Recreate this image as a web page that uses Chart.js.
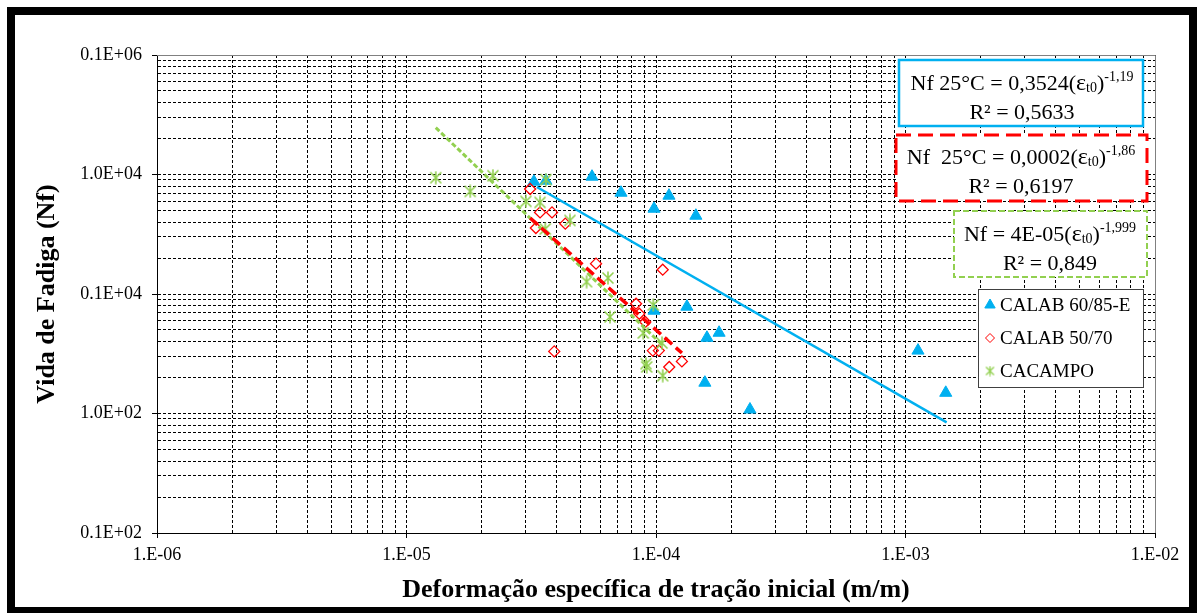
<!DOCTYPE html>
<html>
<head>
<meta charset="utf-8">
<script src="https://cdn.jsdelivr.net/npm/chart.js@4.4.1/dist/chart.umd.min.js"></script>
<style>
  html, body { margin: 0; padding: 0; background: #fff; }
  #wrap { width: 1200px; height: 613px; position: relative; }
</style>
</head>
<body>
<div id="wrap"><canvas id="fatigue" width="1200" height="613"></canvas></div>
<script>
// Initial tensile strain (m/m) against fatigue life (cycles), one pair of arrays per mixture
const calab6085Strain = [3.24e-5, 3.62e-5, 5.54e-5, 7.24e-5, 1.127e-4, 9.82e-5, 1.445e-4, 1.33e-4, 9.82e-5, 1.60e-4, 1.79e-4, 1.57e-4, 2.38e-4, 1.122e-3, 1.45e-3];
const calab6085Life   = [8710, 8870, 9590, 7040, 6650, 5170, 4520, 783, 725, 430, 474, 181, 108, 336, 149];

const calab5070Strain = [3.13e-5, 3.43e-5, 3.83e-5, 3.30e-5, 4.33e-5, 5.75e-5, 1.064e-4, 8.32e-5, 8.57e-5, 9.06e-5, 3.91e-5, 9.71e-5, 1.026e-4, 1.13e-4, 1.27e-4];
const calab5070Life   = [7560, 4820, 4820, 3570, 3880, 1795, 1597, 830, 684, 583, 331, 336, 336, 245, 273];

const cacampoStrain = [1.31e-5, 2.22e-5, 1.80e-5, 3.62e-5, 3.01e-5, 3.43e-5, 4.52e-5, 3.60e-5, 6.42e-5, 5.27e-5, 6.54e-5, 9.75e-5, 8.89e-5, 1.057e-4, 9.18e-5, 9.12e-5, 1.064e-4];
const cacampoLife   = [9400, 9770, 7220, 9050, 5960, 5840, 4130, 3500, 1360, 1267, 643, 809, 472, 389, 245, 261, 207];

// Power-law trend lines: start and end of each fitted curve
const trend6085Strain = [3.33e-5, 1.462e-3];
const trend6085Life   = [7860, 84.2];
const trend5070Strain = [3.13e-5, 1.27e-4];
const trend5070Life   = [4325, 321];
const trendCacampoStrain = [1.31e-5, 1.057e-4];
const trendCacampoLife   = [24650, 377];

// Decade tick labels
const xTickValues = [1e-6, 1e-5, 1e-4, 1e-3, 1e-2];
const xTickLabels = ['1.E-06', '1.E-05', '1.E-04', '1.E-03', '1.E-02'];
const yTickValues = [10, 100, 1000, 10000, 100000];
const yTickLabels = ['0.1E+02', '1.0E+02', '0.1E+04', '1.0E+04', '0.1E+06'];

const seriesNames = ['CALAB 60/85-E', 'CALAB 50/70', 'CACAMPO'];

const BLUE = '#00B0F0', RED = '#FF0000', GREEN = '#92D050';
const SERIF = '"Liberation Serif", "Times New Roman", serif';

function pairs(xs, ys) { return xs.map((x, i) => ({ x, y: ys[i] })); }

function starMarker(size, color, lw) {
  const c = document.createElement('canvas');
  c.width = size; c.height = size;
  const g = c.getContext('2d');
  g.strokeStyle = color; g.lineWidth = lw;
  const m = 1.5, e = size - 1.5, h = size / 2;
  g.beginPath();
  g.moveTo(m, m); g.lineTo(e, e);
  g.moveTo(e, m); g.lineTo(m, e);
  g.moveTo(h, 0.5); g.lineTo(h, size - 0.5);
  g.stroke();
  return c;
}
const starBig = starMarker(14, GREEN, 1.6);
const starSmall = starMarker(11, GREEN, 1.3);

function isDecade(v) {
  const l = Math.log10(v);
  return Math.abs(l - Math.round(l)) < 1e-6;
}
function labelFor(values, labels, v) {
  const i = values.findIndex(t => Math.abs(Math.log10(t) - Math.log10(v)) < 1e-6);
  return i >= 0 ? labels[i] : '';
}
function logGridTicks(min, max) {
  const out = [];
  const e0 = Math.round(Math.log10(min)), e1 = Math.round(Math.log10(max));
  for (let e = e0; e < e1; e++) {
    for (let k = 1; k < 10; k++) out.push({ value: k * Math.pow(10, e) });
  }
  out.push({ value: max });
  return out;
}

// Rich text: runs of text with their own font and vertical shift
function drawRich(ctx, parts, cx, baseline) {
  let w = 0;
  parts.forEach(p => { ctx.font = p.font; p.w = ctx.measureText(p.t).width; w += p.w; });
  let x = cx - w / 2;
  ctx.textAlign = 'left';
  ctx.textBaseline = 'alphabetic';
  parts.forEach(p => { ctx.font = p.font; ctx.fillText(p.t, x, baseline + (p.dy || 0)); x += p.w; });
}

const F = '22px ' + SERIF, FE = '24px ' + SERIF, FS = '14px ' + SERIF;
const equationBoxes = [
  { rect: [899, 60, 244, 66], color: BLUE, width: 2.5, dash: [], cx: 1022,
    lines: [
      { base: 90, parts: [{ t: 'Nf 25°C = 0,3524(', font: F }, { t: 'ε', font: FE }, { t: 't0', font: FS, dy: 2 }, { t: ')', font: F }, { t: '-1,19', font: FS, dy: -9 }] },
      { base: 119, parts: [{ t: 'R² = 0,5633', font: F }] }
    ] },
  { rect: [896, 135, 251, 66], color: RED, width: 3, dash: [15, 7], cx: 1021,
    lines: [
      { base: 164, parts: [{ t: 'Nf  25°C = 0,0002(', font: F }, { t: 'ε', font: FE }, { t: 't0', font: FS, dy: 2 }, { t: ')', font: F }, { t: '-1,86', font: FS, dy: -9 }] },
      { base: 193, parts: [{ t: 'R² = 0,6197', font: F }] }
    ] },
  { rect: [954, 211, 193, 66], color: GREEN, width: 2, dash: [6, 3], cx: 1050,
    lines: [
      { base: 241, parts: [{ t: 'Nf = 4E-05(', font: F }, { t: 'ε', font: FE }, { t: 't0', font: FS, dy: 2 }, { t: ')', font: F }, { t: '-1,999', font: FS, dy: -9 }] },
      { base: 270, parts: [{ t: 'R² = 0,849', font: F }] }
    ] }
];

const chartDecor = {
  id: 'chartDecor',
  beforeDatasetsDraw(chart) {
    const { ctx, chartArea: a } = chart;
    ctx.save();
    ctx.strokeStyle = '#808080';
    ctx.lineWidth = 1;
    ctx.beginPath();
    ctx.moveTo(a.left, a.top + 0.5); ctx.lineTo(a.right + 0.5, a.top + 0.5); ctx.lineTo(a.right + 0.5, a.bottom);
    ctx.stroke();
    ctx.restore();
  },
  afterDatasetsDraw(chart) {
    const ctx = chart.ctx;
    ctx.save();
    // equation boxes
    equationBoxes.forEach(b => {
      const [x, y, w, h] = b.rect;
      ctx.fillStyle = '#fff';
      ctx.fillRect(x, y, w, h);
      ctx.strokeStyle = b.color; ctx.lineWidth = b.width; ctx.setLineDash(b.dash);
      ctx.strokeRect(x, y, w, h);
      ctx.setLineDash([]);
      ctx.fillStyle = '#000';
      b.lines.forEach(l => drawRich(ctx, l.parts, b.cx, l.base));
    });
    // legend
    const lx = 978, ly = 289, lw = 165, lh = 98;
    ctx.fillStyle = '#fff';
    ctx.fillRect(lx, ly, lw, lh);
    ctx.strokeStyle = '#404040'; ctx.lineWidth = 1;
    ctx.strokeRect(lx + 0.5, ly + 0.5, lw, lh);
    const rows = [
      { ds: 0, y: 305, style: { pointStyle: 'triangle', radius: 6, borderWidth: 1, rotation: 0 } },
      { ds: 1, y: 338, style: { pointStyle: 'rectRot', radius: 4.5, borderWidth: 1.2, rotation: 0 } },
      { ds: 2, y: 371, style: { pointStyle: starSmall, radius: 5, borderWidth: 0, rotation: 0 } }
    ];
    rows.forEach(r => {
      const d = chart.data.datasets[r.ds];
      ctx.fillStyle = d.backgroundColor; ctx.strokeStyle = d.borderColor;
      Chart.helpers.drawPoint(ctx, r.style, 990, r.y);
      ctx.fillStyle = '#000';
      ctx.font = '19px ' + SERIF;
      ctx.textAlign = 'left'; ctx.textBaseline = 'middle';
      ctx.fillText(d.label, 1000, r.y + 1);
    });
    ctx.restore();
  },
  afterDraw(chart) {
    const ctx = chart.ctx;
    ctx.save();
    ctx.strokeStyle = '#000';
    ctx.lineWidth = 8;
    ctx.strokeRect(11, 11, 1182, 600);
    ctx.restore();
  }
};

const tickFont = { family: SERIF, size: 18 };
const titleFont = { family: SERIF, size: 26, weight: 'bold' };

new Chart(document.getElementById('fatigue'), {
  type: 'scatter',
  data: {
    datasets: [
      { label: seriesNames[0], data: pairs(calab6085Strain, calab6085Life), pointStyle: 'triangle', radius: 7,
        backgroundColor: BLUE, borderColor: BLUE, borderWidth: 1, order: 5 },
      { label: seriesNames[1], data: pairs(calab5070Strain, calab5070Life), pointStyle: 'rectRot', radius: 5.5,
        backgroundColor: 'rgba(0,0,0,0)', borderColor: RED, borderWidth: 1.3, order: 4 },
      { label: seriesNames[2], data: pairs(cacampoStrain, cacampoLife), pointStyle: starBig, radius: 7,
        backgroundColor: GREEN, borderColor: GREEN, borderWidth: 0, order: 3 },
      { type: 'line', label: 'trend 60/85-E', data: pairs(trend6085Strain, trend6085Life), borderColor: BLUE,
        borderWidth: 2.5, pointRadius: 0, fill: false, order: 2 },
      { type: 'line', label: 'trend 50/70', data: pairs(trend5070Strain, trend5070Life), borderColor: RED,
        borderWidth: 3.5, borderDash: [10, 5], pointRadius: 0, fill: false, order: 0 },
      { type: 'line', label: 'trend CACAMPO', data: pairs(trendCacampoStrain, trendCacampoLife), borderColor: GREEN,
        borderWidth: 3, borderDash: [5, 2.5], pointRadius: 0, fill: false, order: 1 }
    ]
  },
  options: {
    responsive: false,
    animation: false,
    layout: { padding: { top: 55, right: 45, left: 0, bottom: 0 } },
    plugins: { legend: { display: false }, tooltip: { enabled: false } },
    scales: {
      x: {
        type: 'logarithmic', position: 'bottom', min: 1e-6, max: 1e-2,
        afterBuildTicks: s => { s.ticks = logGridTicks(1e-6, 1e-2); },
        afterFit: s => { s.height = 80; },
        ticks: { autoSkip: false, maxRotation: 0, minRotation: 0, padding: 6, color: '#000', font: tickFont,
          callback: v => labelFor(xTickValues, xTickLabels, v) },
        grid: { color: '#000', lineWidth: 1, tickLength: 5, tickBorderDash: [],
          tickColor: c => (c.tick && isDecade(c.tick.value)) ? '#000' : 'rgba(0,0,0,0)' },
        border: { display: true, color: '#000', width: 1, dash: [3, 2] },
        title: { display: true, text: 'Deformação específica de tração inicial (m/m)', color: '#000',
          font: titleFont, padding: { top: 0, bottom: 7 } }
      },
      y: {
        type: 'logarithmic', position: 'left', min: 10, max: 1e5,
        afterBuildTicks: s => { s.ticks = logGridTicks(10, 1e5); },
        afterFit: s => { s.width = 157; },
        ticks: { autoSkip: false, padding: 10, color: '#000', font: tickFont,
          callback: v => labelFor(yTickValues, yTickLabels, v) },
        grid: { color: '#000', lineWidth: 1, tickLength: 5, tickBorderDash: [],
          tickColor: c => (c.tick && isDecade(c.tick.value)) ? '#000' : 'rgba(0,0,0,0)' },
        border: { display: true, color: '#000', width: 1, dash: [3, 2] },
        title: { display: true, text: 'Vida de Fadiga (Nf)', color: '#000',
          font: titleFont, padding: { top: 32, bottom: 0 } }
      }
    }
  },
  plugins: [chartDecor]
});
</script>
</body>
</html>
